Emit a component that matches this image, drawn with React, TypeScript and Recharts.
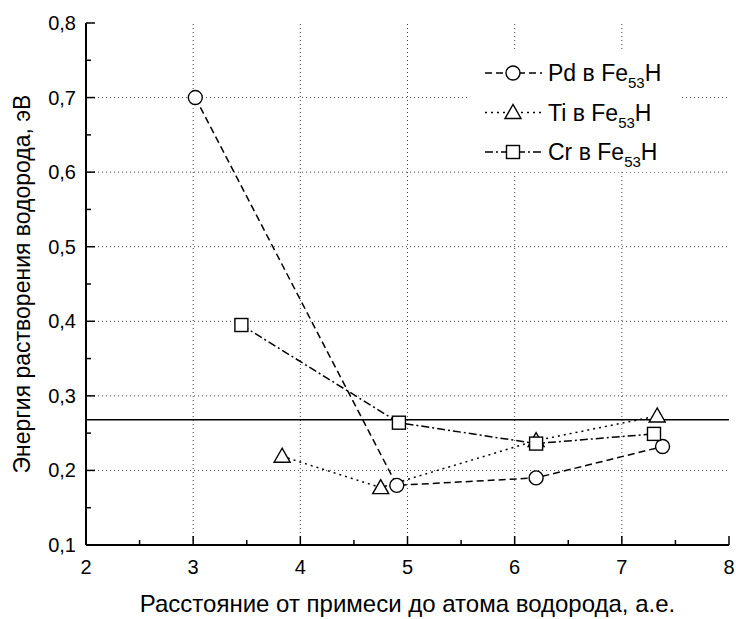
import React from "react";
import {
  LineChart,
  Line,
  XAxis,
  YAxis,
  ReferenceLine,
  Legend,
} from "recharts";

// x = distance from impurity to H atom (a.u.), y = solution energy (eV)
const pdX = [3.02, 4.9, 6.2, 7.38];
const pdY = [0.7, 0.18, 0.19, 0.232];
const tiX = [3.83, 4.75, 6.2, 7.33];
const tiY = [0.219, 0.177, 0.24, 0.273];
const crX = [3.45, 4.92, 6.2, 7.3];
const crY = [0.395, 0.264, 0.236, 0.249];

const feLevel = 0.268;

const xTicks = [2, 2.5, 3, 3.5, 4, 4.5, 5, 5.5, 6, 6.5, 7, 7.5, 8];
const yTicks = [0.1, 0.15, 0.2, 0.25, 0.3, 0.35, 0.4, 0.45, 0.5, 0.55, 0.6, 0.65, 0.7, 0.75, 0.8];
const xGrid = [3, 4, 5, 6, 7];
const yGrid = [0.2, 0.3, 0.4, 0.5, 0.6, 0.7];

const pd = pdX.map((x, i) => ({ x, y: pdY[i] }));
const ti = tiX.map((x, i) => ({ x, y: tiY[i] }));
const cr = crX.map((x, i) => ({ x, y: crY[i] }));

const FONT = "'Liberation Sans', Arial, sans-serif";
const MAJOR = 9;
const MINOR = 5;
const GAP = 10;

const isMajorX = (v: number) => Math.abs(v - Math.round(v)) < 1e-6;
const isMajorY = (v: number) => Math.abs(v * 10 - Math.round(v * 10)) < 1e-6;
const fmt = (v: number) => v.toFixed(1).replace(".", ",");

const BottomTick = (p: any) => {
  const v = p.payload.value;
  const major = isMajorX(v);
  const ay = p.y - GAP;
  return (
    <g>
      <line x1={p.x} x2={p.x} y1={ay} y2={ay - (major ? MAJOR : MINOR)} stroke="#000" strokeWidth={1.5} />
      {major && (
        <text x={p.x} y={p.y + 19} textAnchor="middle" fontSize={20} fontFamily={FONT} fill="#000">
          {v}
        </text>
      )}
    </g>
  );
};

const LeftTick = (p: any) => {
  const v = p.payload.value;
  const major = isMajorY(v);
  const ax = p.x + GAP;
  return (
    <g>
      <line x1={ax} x2={ax + (major ? MAJOR : MINOR)} y1={p.y} y2={p.y} stroke="#000" strokeWidth={1.5} />
      {major && (
        <text x={p.x} y={p.y} dy="0.35em" textAnchor="end" fontSize={20} fontFamily={FONT} fill="#000">
          {fmt(v)}
        </text>
      )}
    </g>
  );
};

const TopTick = (p: any) => {
  const major = isMajorX(p.payload.value);
  return <line x1={p.x} x2={p.x} y1={p.y} y2={p.y + (major ? MAJOR : MINOR)} stroke="#000" strokeWidth={1.5} />;
};

const RightTick = (p: any) => {
  const major = isMajorY(p.payload.value);
  return <line x1={p.x} x2={p.x - (major ? MAJOR : MINOR)} y1={p.y} y2={p.y} stroke="#000" strokeWidth={1.5} />;
};

const Circle = ({ cx, cy }: { cx: number; cy: number }) => (
  <circle cx={cx} cy={cy} r={7} fill="#fff" stroke="#000" strokeWidth={1.4} />
);
const Triangle = ({ cx, cy }: { cx: number; cy: number }) => (
  <polygon
    points={`${cx},${cy - 8} ${cx - 8},${cy + 6} ${cx + 8},${cy + 6}`}
    fill="#fff"
    stroke="#000"
    strokeWidth={1.4}
  />
);
const Square = ({ cx, cy }: { cx: number; cy: number }) => (
  <rect x={cx - 6.5} y={cy - 6.5} width={13} height={13} fill="#fff" stroke="#000" strokeWidth={1.4} />
);

const PD_DASH = "7 4";
const TI_DASH = "2 4";
const CR_DASH = "8 3 2 3";

const legendRows = [
  { name: "Pd", dash: PD_DASH, Marker: Circle },
  { name: "Ti", dash: TI_DASH, Marker: Triangle },
  { name: "Cr", dash: CR_DASH, Marker: Square },
];

const renderLegend = () => (
  <svg width={212} height={120} style={{ display: "block", background: "#fff" }}>
    {legendRows.map((r, i) => {
      const y = 21 + i * 39.5;
      return (
        <g key={r.name}>
          <line x1={17} x2={74} y1={y} y2={y} stroke="#000" strokeWidth={1.4} strokeDasharray={r.dash} />
          <r.Marker cx={45} cy={y} />
          <text x={80} y={y + 8} fontSize={23} fontFamily={FONT} fill="#000">
            {r.name} в Fe
            <tspan fontSize={15} dy={7}>53</tspan>
            <tspan dy={-7}>H</tspan>
          </text>
        </g>
      );
    })}
  </svg>
);

export default function App() {
  return (
    <div style={{ position: "absolute", left: 0, top: 0, background: "#fff" }}>
      <LineChart width={736} height={619} margin={{ top: 23, right: 7, bottom: 0, left: 0 }}>
        <XAxis
          xAxisId="b"
          type="number"
          dataKey="x"
          domain={[2, 8]}
          ticks={xTicks}
          interval={0}
          height={74}
          tickSize={0}
          tickMargin={GAP}
          tickLine={false}
          tick={BottomTick}
          axisLine={{ stroke: "#000", strokeWidth: 2 }}
          allowDataOverflow
          label={{
            value: "Расстояние от примеси до атома водорода, а.е.",
            position: "insideBottom",
            offset: 7,
            style: { fontSize: 24, fontFamily: FONT, fill: "#000" },
          }}
        />
        <XAxis
          xAxisId="t"
          orientation="top"
          type="number"
          dataKey="x"
          domain={[2, 8]}
          ticks={xTicks}
          interval={0}
          height={0}
          tickSize={0}
          tickMargin={0}
          tickLine={false}
          tick={TopTick}
          axisLine={{ stroke: "#000", strokeWidth: 2 }}
        />
        <YAxis
          yAxisId="l"
          type="number"
          domain={[0.1, 0.8]}
          ticks={yTicks}
          interval={0}
          width={86}
          tickSize={0}
          tickMargin={GAP}
          tickLine={false}
          tick={LeftTick}
          axisLine={{ stroke: "#000", strokeWidth: 2 }}
          allowDataOverflow
          label={{
            value: "Энергия растворения водорода, эВ",
            angle: -90,
            position: "insideLeft",
            offset: 22,
            style: { fontSize: 23, fontFamily: FONT, fill: "#000", textAnchor: "middle" },
          }}
        />
        <YAxis
          yAxisId="r"
          orientation="right"
          type="number"
          domain={[0.1, 0.8]}
          ticks={yTicks}
          interval={0}
          width={0}
          tickSize={0}
          tickMargin={0}
          tickLine={false}
          tick={RightTick}
          axisLine={{ stroke: "#000", strokeWidth: 2 }}
        />

        {xGrid.map((v) => (
          <ReferenceLine key={"gx" + v} xAxisId="b" yAxisId="l" x={v} stroke="#444" strokeDasharray="1 3" />
        ))}
        {yGrid.map((v) => (
          <ReferenceLine key={"gy" + v} xAxisId="b" yAxisId="l" y={v} stroke="#444" strokeDasharray="1 3" />
        ))}
        <ReferenceLine xAxisId="b" yAxisId="l" y={feLevel} stroke="#000" strokeWidth={1.6} />

        <Legend
          layout="vertical"
          align="center"
          verticalAlign="middle"
          content={renderLegend}
          wrapperStyle={{ left: 468, top: 52, width: 212, height: 120 }}
        />

        <Line
          xAxisId="b"
          yAxisId="l"
          data={pd}
          dataKey="y"
          type="linear"
          stroke="#000"
          strokeWidth={1.5}
          strokeDasharray={PD_DASH}
          dot={(p: any) => <Circle key={p.index} cx={p.cx} cy={p.cy} />}
          isAnimationActive={false}
        />
        <Line
          xAxisId="b"
          yAxisId="l"
          data={ti}
          dataKey="y"
          type="linear"
          stroke="#000"
          strokeWidth={1.5}
          strokeDasharray={TI_DASH}
          dot={(p: any) => <Triangle key={p.index} cx={p.cx} cy={p.cy} />}
          isAnimationActive={false}
        />
        <Line
          xAxisId="b"
          yAxisId="l"
          data={cr}
          dataKey="y"
          type="linear"
          stroke="#000"
          strokeWidth={1.5}
          strokeDasharray={CR_DASH}
          dot={(p: any) => <Square key={p.index} cx={p.cx} cy={p.cy} />}
          isAnimationActive={false}
        />
      </LineChart>
    </div>
  );
}
